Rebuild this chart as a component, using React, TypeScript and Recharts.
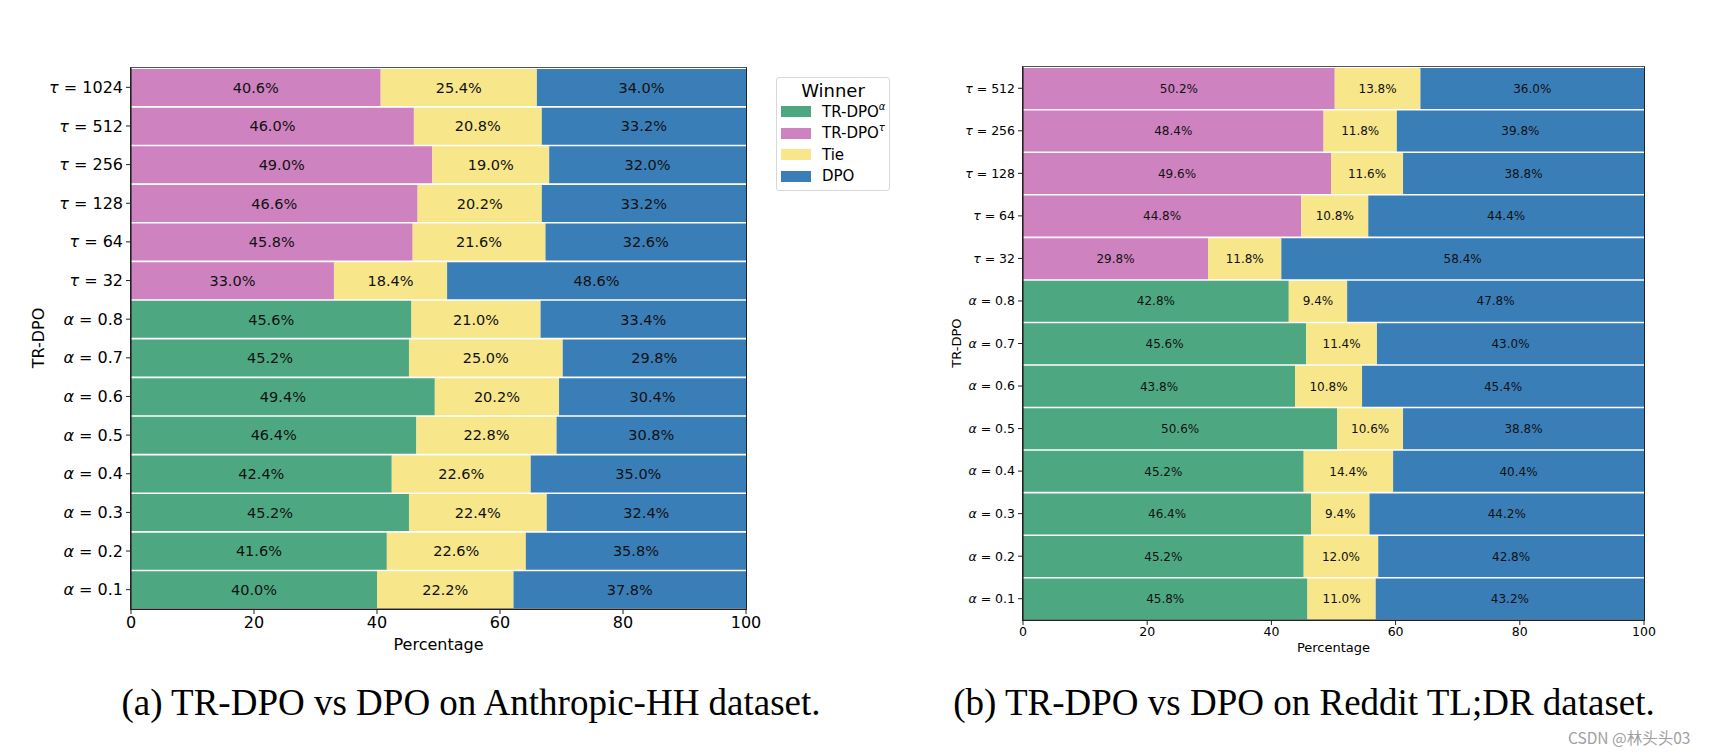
import React from 'react';
import { BarChart, Bar, XAxis, YAxis, LabelList, Legend } from 'recharts';

// ---------- data ----------
const leftCategories = ['τ = 1024', 'τ = 512', 'τ = 256', 'τ = 128', 'τ = 64', 'τ = 32', 'α = 0.8', 'α = 0.7', 'α = 0.6', 'α = 0.5', 'α = 0.4', 'α = 0.3', 'α = 0.2', 'α = 0.1'];
const leftTrdpo = [40.6, 46.0, 49.0, 46.6, 45.8, 33.0, 45.6, 45.2, 49.4, 46.4, 42.4, 45.2, 41.6, 40.0];
const leftTie = [25.4, 20.8, 19.0, 20.2, 21.6, 18.4, 21.0, 25.0, 20.2, 22.8, 22.6, 22.4, 22.6, 22.2];
const leftDpo = [34.0, 33.2, 32.0, 33.2, 32.6, 48.6, 33.4, 29.8, 30.4, 30.8, 35.0, 32.4, 35.8, 37.8];

const rightCategories = ['τ = 512', 'τ = 256', 'τ = 128', 'τ = 64', 'τ = 32', 'α = 0.8', 'α = 0.7', 'α = 0.6', 'α = 0.5', 'α = 0.4', 'α = 0.3', 'α = 0.2', 'α = 0.1'];
const rightTrdpo = [50.2, 48.4, 49.6, 44.8, 29.8, 42.8, 45.6, 43.8, 50.6, 45.2, 46.4, 45.2, 45.8];
const rightTie = [13.8, 11.8, 11.6, 10.8, 11.8, 9.4, 11.4, 10.8, 10.6, 14.4, 9.4, 12.0, 11.0];
const rightDpo = [36.0, 39.8, 38.8, 44.4, 58.4, 47.8, 43.0, 45.4, 38.8, 40.4, 44.2, 42.8, 43.2];

const xTicks = [0, 20, 40, 60, 80, 100];

const seriesKeys = ['alpha', 'tau', 'tie', 'dpo'];
const seriesNames = ['TR-DPO', 'TR-DPO', 'Tie', 'DPO'];
const seriesSups = ['α', 'τ', '', ''];
const seriesColors = ['#4DA882', '#CF82C0', '#F7E68A', '#3A7EB8'];

const buildRows = (cats: string[], tr: number[], tie: number[], dpo: number[]) =>
  cats.map((name, i) => {
    const isTau = name.startsWith('τ');
    return {
      name,
      alpha: isTau ? 0 : tr[i],
      tau: isTau ? tr[i] : 0,
      tie: tie[i],
      dpo: dpo[i],
    };
  });

const leftData = buildRows(leftCategories, leftTrdpo, leftTie, leftDpo);
const rightData = buildRows(rightCategories, rightTrdpo, rightTie, rightDpo);

const FONT = "'DejaVu Sans', sans-serif";

// plot rectangles (page pixels)
const L = { x0: 131, x1: 746, y0: 68, y1: 609 };
const R = { x0: 1023, x1: 1644, y0: 67, y1: 620 };

const makeYTick = (fontSize: number) => (props: any) => {
  const { x, y, payload } = props;
  const label: string = payload.value;
  const sym = label.charAt(0);
  const rest = label.slice(1);
  return (
    <text x={x} y={y} dy="0.35em" textAnchor="end" fontSize={fontSize} fontFamily={FONT} fill="#000">
      <tspan fontStyle="italic">{sym}</tspan>
      {rest}
    </text>
  );
};

const fmt = (v: any) => (typeof v === 'number' && v > 0 ? `${v.toFixed(1)}%` : '');

const LegendBox = () => (
  <div
    style={{
      width: 114,
      height: 114,
      border: '1px solid #d8d8d8',
      borderRadius: 3,
      background: '#fff',
      fontFamily: FONT,
      boxSizing: 'border-box',
    }}
  >
    <div style={{ textAlign: 'center', fontSize: 18, lineHeight: '20px', paddingTop: 3, color: '#000' }}>Winner</div>
    {seriesNames.map((n, i) => (
      <div key={i} style={{ display: 'flex', alignItems: 'center', height: 21.5, marginLeft: 4 }}>
        <div style={{ width: 30, height: 11, background: seriesColors[i] }} />
        <div style={{ marginLeft: 11, fontSize: 15, color: '#000', whiteSpace: 'nowrap' }}>
          {n}
          {seriesSups[i] ? <sup style={{ fontSize: 10, fontStyle: 'italic', verticalAlign: 'top', position: 'relative', top: -2 }}>{seriesSups[i]}</sup> : null}
        </div>
      </div>
    ))}
  </div>
);

type PanelProps = {
  data: any[];
  width: number;
  height: number;
  margin: { top: number; right: number; left: number; bottom: number };
  yWidth: number;
  tickFont: number;
  labelFont: number;
  xAxisHeight: number;
  tickMargin: number;
  legend?: boolean;
};

const Panel = ({ data, width, height, margin, yWidth, tickFont, labelFont, xAxisHeight, tickMargin, legend }: PanelProps) => (
  <BarChart layout="vertical" width={width} height={height} data={data} margin={margin} barCategoryGap={1}>
    <XAxis
      type="number"
      domain={[0, 100]}
      ticks={xTicks}
      allowDataOverflow
      height={xAxisHeight}
      tickSize={5}
      tickMargin={tickMargin}
      tick={{ fontSize: tickFont, fontFamily: FONT, fill: '#000' }}
      axisLine={{ stroke: '#222', strokeWidth: 1.2 }}
      tickLine={{ stroke: '#222' }}
    />
    <YAxis
      type="category"
      dataKey="name"
      width={yWidth}
      tickSize={5}
      tickMargin={3}
      interval={0}
      tick={makeYTick(tickFont)}
      axisLine={{ stroke: '#222', strokeWidth: 1.2 }}
      tickLine={{ stroke: '#222' }}
    />
    {seriesKeys.map((k, i) => (
      <Bar key={k} dataKey={k} name={seriesNames[i]} stackId="s" fill={seriesColors[i]} isAnimationActive={false}>
        <LabelList dataKey={k} position="center" formatter={fmt} fontSize={labelFont} fontFamily={FONT} fill="#111" />
      </Bar>
    ))}
    {legend ? (
      <Legend
        layout="vertical"
        align="center"
        verticalAlign="middle"
        wrapperStyle={{ left: 776, top: 77, width: 114, height: 114 }}
        content={() => <LegendBox />}
      />
    ) : null}
  </BarChart>
);

const Frame = ({ r }: { r: { x0: number; x1: number; y0: number; y1: number } }) => (
  <div
    style={{
      position: 'absolute',
      left: r.x0 - 0.6,
      top: r.y0 - 0.6,
      width: r.x1 - r.x0 + 1.2,
      height: r.y1 - r.y0 + 1.2,
      borderTop: '1.2px solid #555',
      borderRight: '1.2px solid #222',
      borderLeft: '1.2px solid #222',
      borderBottom: '1.2px solid #222',
      boxSizing: 'border-box',
      pointerEvents: 'none',
    }}
  />
);

export default function App() {
  const leftW = 900;
  const leftH = 680;
  const leftXH = 40;
  const rightLeft = 897;
  const rightW = 800;
  const rightH = 690;
  const rightXH = 30;
  const rightY = 126;
  return (
    <div style={{ position: 'absolute', left: 0, top: 0, width: 1722, height: 754, background: '#fff', overflow: 'hidden' }}>
      {/* Left panel */}
      <div style={{ position: 'absolute', left: 0, top: 0 }}>
        <Panel
          data={leftData}
          width={leftW}
          height={leftH}
          margin={{ top: L.y0, right: leftW - L.x1, left: 0, bottom: leftH - L.y1 - leftXH }}
          yWidth={L.x0}
          tickFont={16}
          labelFont={14.5}
          xAxisHeight={leftXH}
          tickMargin={3}
          legend
        />
      </div>
      <Frame r={L} />
      <div style={{ position: 'absolute', left: (L.x0 + L.x1) / 2 - 100, top: 635, width: 200, textAlign: 'center', fontFamily: FONT, fontSize: 16, color: '#000' }}>
        Percentage
      </div>
      <div
        style={{
          position: 'absolute',
          left: 39 - 50,
          top: 338 - 10,
          width: 100,
          height: 20,
          lineHeight: '20px',
          textAlign: 'center',
          fontFamily: FONT,
          fontSize: 16,
          color: '#000',
          transform: 'rotate(-90deg)',
        }}
      >
        TR-DPO
      </div>

      {/* Right panel */}
      <div style={{ position: 'absolute', left: rightLeft, top: 0 }}>
        <Panel
          data={rightData}
          width={rightW}
          height={rightH}
          margin={{ top: R.y0, right: rightW - (R.x1 - rightLeft), left: 0, bottom: rightH - R.y1 - rightXH }}
          yWidth={R.x0 - rightLeft}
          tickFont={12.5}
          labelFont={12}
          xAxisHeight={rightXH}
          tickMargin={2}
        />
      </div>
      <Frame r={R} />
      <div style={{ position: 'absolute', left: (R.x0 + R.x1) / 2 - 100, top: 640, width: 200, textAlign: 'center', fontFamily: FONT, fontSize: 13, color: '#000' }}>
        Percentage
      </div>
      <div
        style={{
          position: 'absolute',
          left: 957 - 50,
          top: 343 - 8,
          width: 100,
          height: 16,
          lineHeight: '16px',
          textAlign: 'center',
          fontFamily: FONT,
          fontSize: 13,
          color: '#000',
          transform: 'rotate(-90deg)',
        }}
      >
        TR-DPO
      </div>

      {/* Captions */}
      <div style={{ position: 'absolute', left: 471 - 450, top: 681, width: 900, textAlign: 'center', fontFamily: "'Liberation Serif', serif", fontSize: 37, lineHeight: '44px', color: '#000', whiteSpace: 'nowrap' }}>
        (a) TR-DPO vs DPO on Anthropic-HH dataset.
      </div>
      <div style={{ position: 'absolute', left: 1304 - 450, top: 681, width: 900, textAlign: 'center', fontFamily: "'Liberation Serif', serif", fontSize: 37, lineHeight: '44px', color: '#000', whiteSpace: 'nowrap' }}>
        (b) TR-DPO vs DPO on Reddit TL;DR dataset.
      </div>
      <div style={{ position: 'absolute', left: 1568, top: 726, fontFamily: "'Noto Sans CJK SC', sans-serif", fontSize: 15.5, color: '#a0a0a0', whiteSpace: 'nowrap' }}>
        CSDN @林头头03
      </div>
    </div>
  );
}
